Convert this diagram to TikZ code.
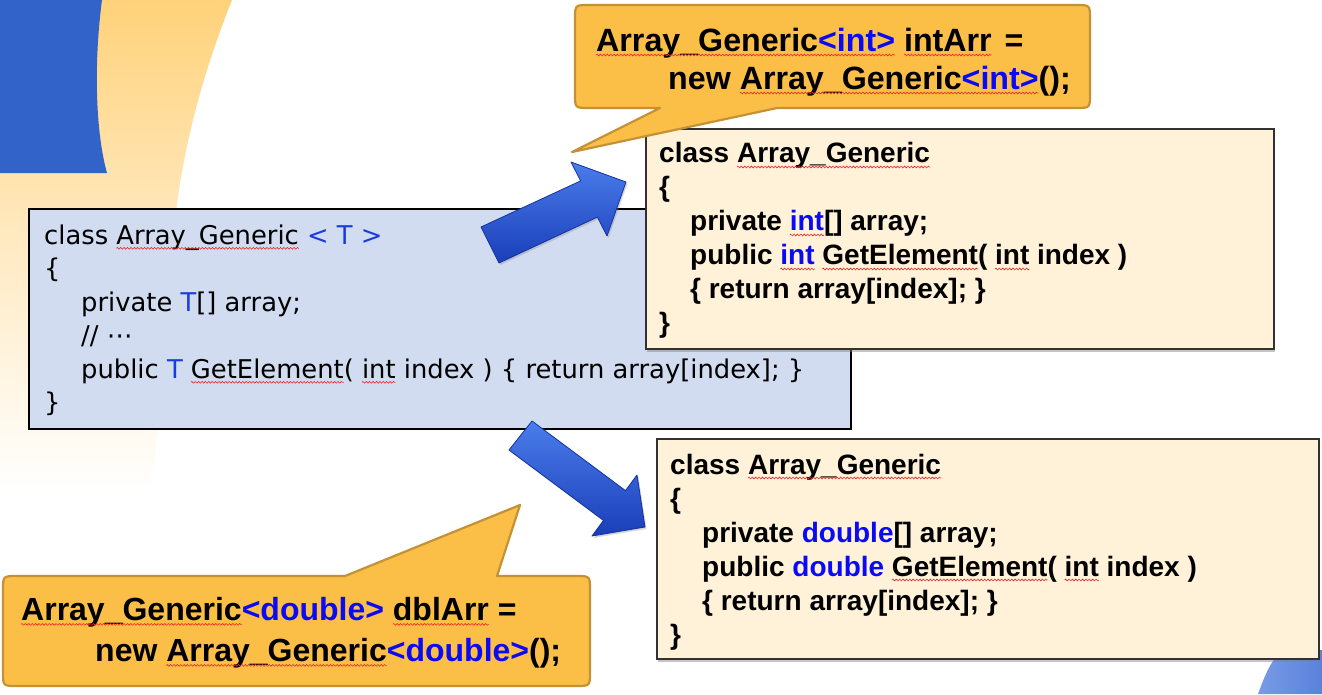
\documentclass[tikz,border=0pt]{standalone}
\usepackage{fontspec}
\setmainfont{Liberation Sans}
\newfontfamily\gulim{DejaVu Sans}
\usetikzlibrary{shadows,decorations.pathmorphing}
\definecolor{bgblue}{RGB}{49,99,200}
\definecolor{bgorange}{RGB}{255,210,122}
\definecolor{genfill}{RGB}{209,220,240}
\definecolor{cream}{RGB}{255,242,217}
\definecolor{callfill}{RGB}{251,191,72}
\definecolor{calldraw}{RGB}{196,146,52}
\definecolor{tblue}{RGB}{25,60,225}
\definecolor{cblue}{RGB}{10,10,245}
\definecolor{squig}{RGB}{235,40,40}
\definecolor{arrlight}{RGB}{75,125,235}
\definecolor{arrdark}{RGB}{25,62,185}
\definecolor{arredge}{RGB}{20,50,160}
\newsavebox\sqbox
\newcommand\sq[1]{\sbox\sqbox{#1}\rlap{\usebox\sqbox}\tikz[baseline=0pt]{\useasboundingbox (0pt,0pt) rectangle (\wd\sqbox,0.1pt);
  \draw[squig, line width=0.6pt, decorate, decoration={zigzag,segment length=3.4pt,amplitude=0.9pt}] (0pt,-4pt) -- (\wd\sqbox,-4pt);}}
\begin{document}
\begin{tikzpicture}[x=1pt,y=-1pt,
  genbox/.style={draw=black, line width=1.8pt, fill=genfill, inner sep=0pt, anchor=north west},
  codebox/.style={draw={rgb,255:red,50;green,50;blue,50}, line width=1.5pt, fill=cream, inner sep=0pt, anchor=north west,
     drop shadow={shadow xshift=1.5pt, shadow yshift=-3pt, opacity=0.45}},
  gentext/.style={inner sep=0pt, anchor=north west, align=left, font=\gulim\fontsize{25.8}{33.5}\selectfont},
  codetext/.style={inner sep=0pt, anchor=north west, align=left, font=\bfseries\fontsize{28}{34}\selectfont},
  calltext/.style={inner sep=0pt, anchor=north west, align=left, font=\bfseries\fontsize{32.2}{38}\selectfont},
  callout/.style={fill=callfill, draw=calldraw, line width=2.2pt, line join=round},
  blockarrow/.style={shading=axis, top color=arrlight, bottom color=arrdark, draw=arredge, line width=0.8pt, line join=round,
     drop shadow={shadow xshift=1.5pt, shadow yshift=-2pt, opacity=0.3}}
]
\useasboundingbox (0,0) rectangle (1322,694);
\fill[white] (0,0) rectangle (1322,694);
% background decoration
\shade[top color=bgorange, bottom color=white, middle color={rgb,255:red,255;green,234;blue,195}]
  (0,0) -- (232,0) .. controls (200,80) and (176,170) .. (172,260) .. controls (168,350) and (160,420) .. (150,490) -- (0,490) -- cycle;
\fill[bgblue] (0,0) -- (102,0) .. controls (94,60) and (95,130) .. (107,173) -- (0,173) -- cycle;
\shade[left color={rgb,255:red,120;green,155;blue,230}, right color={rgb,255:red,90;green,130;blue,220}]
  (1258,694) .. controls (1265,675) and (1270,663) .. (1278,655) -- (1322,650) -- (1322,694) -- cycle;

% generic class box
\node[genbox, minimum width=822pt, minimum height=220pt] (gen) at (28,208) {};
\node[gentext] (gentxt) at (44,224.5) {class \sq{Array\_Generic} \textcolor{tblue}{< T >}\\
\{\\
\hspace*{37pt}private \textcolor{tblue}{T}[] array;\\
\hspace*{37pt}// ⋯\\
\hspace*{37pt}public \textcolor{tblue}{T} \sq{GetElement}( \sq{int} index ) \{ return array[index]; \}\\
\}};

% int version
\node[codebox, minimum width=628pt, minimum height=220pt] (intbox) at (645,128) {};
\node[codetext] (inttxt) at (659,142.5) {class \sq{Array\_Generic}\\
\{\\
\hspace*{31pt}private \sq{\textcolor{cblue}{int}}[] array;\\
\hspace*{31pt}public \sq{\textcolor{cblue}{int}} \sq{GetElement}( \sq{int} index )\\
\hspace*{31pt}\{ return array[index]; \}\\
\}};

% double version
\node[codebox, minimum width=662pt, minimum height=220pt] (dblbox) at (656,438) {};
\node[codetext] (dbltxt) at (670,453.5) {class \sq{Array\_Generic}\\
\{\\
\hspace*{32pt}private \textcolor{cblue}{double}[] array;\\
\hspace*{32pt}public \textcolor{cblue}{double} \sq{GetElement}( \sq{int} index )\\
\hspace*{32pt}\{ return array[index]; \}\\
\}};

% block arrows
\path[blockarrow] (481,227) -- (580.6,180.9) -- (571,162) -- (626,182) -- (607,236) -- (597.4,217.1) -- (499,263) -- cycle;
\path[blockarrow] (532,421) -- (625.5,490.6) -- (637,475) -- (645,527) -- (592,536) -- (603.5,520.4) -- (509,450) -- cycle;

% top callout
\draw[callout] (589,5) -- (1076,5) .. controls (1090,5) .. (1090,19) -- (1090,94) .. controls (1090,108) .. (1076,108)
  -- (777,108) -- (572,152) -- (660,108) -- (589,108) .. controls (575,108) .. (575,94) -- (575,19) .. controls (575,5) .. (589,5) -- cycle;
\node[calltext] (calltop) at (596,27.5) {\sq{Array\_Generic\textcolor{cblue}{<int>}} \sq{intArr}\hspace{4pt} =\\
\hspace*{72pt}new \sq{Array\_Generic\textcolor{cblue}{<int>}}();};

% bottom callout
\draw[callout] (17,576) -- (345,576) -- (520,505) -- (497,576) -- (576,576) .. controls (590,576) .. (590,590) -- (590,672)
  .. controls (590,686) .. (576,686) -- (17,686) .. controls (3,686) .. (3,672) -- (3,590) .. controls (3,576) .. (17,576) -- cycle;
\node[calltext, font=\bfseries\fontsize{32}{41}\selectfont] (callbot) at (21,597) {\sq{Array\_Generic}\textcolor{cblue}{<double>} \sq{dblArr} =\\
\hspace*{74pt}new \sq{Array\_Generic}\textcolor{cblue}{<double>}();};
\end{tikzpicture}
\end{document}
